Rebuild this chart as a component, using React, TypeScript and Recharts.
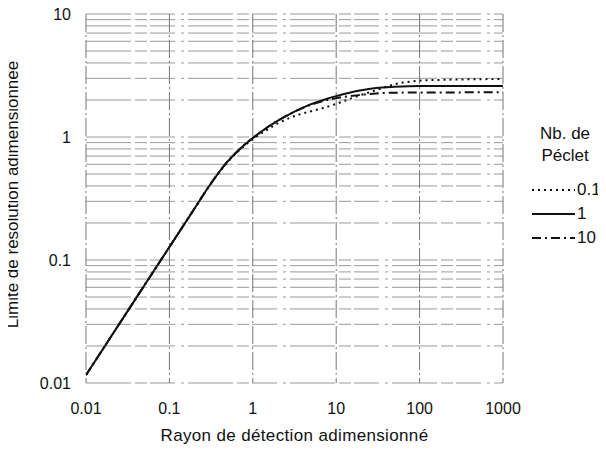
import { LineChart, Line, XAxis, YAxis, CartesianGrid } from 'recharts';

// rayon de détection adimensionné
const RAYON = [0.01, 0.02, 0.05, 0.1, 0.2, 0.3, 0.5, 0.7, 1, 1.5, 2, 3, 5, 7, 10, 20, 30, 50, 100, 200, 500, 1000];

// limite de résolution, une liste par nombre de Péclet
const PE_01 = [0.0116, 0.0239, 0.062, 0.1275, 0.262, 0.4, 0.625, 0.79, 0.96, 1.15, 1.29, 1.46, 1.62, 1.72, 1.86, 2.2, 2.4, 2.68, 2.87, 2.92, 2.95, 2.96];
const PE_1 = [0.0116, 0.0239, 0.062, 0.1275, 0.262, 0.4, 0.634, 0.8, 0.98, 1.2, 1.36, 1.58, 1.85, 2.0, 2.15, 2.4, 2.5, 2.56, 2.6, 2.6, 2.6, 2.6];
const PE_10 = [0.0116, 0.0239, 0.062, 0.1275, 0.262, 0.4, 0.634, 0.8, 0.98, 1.2, 1.36, 1.58, 1.83, 1.96, 2.07, 2.2, 2.26, 2.29, 2.3, 2.3, 2.31, 2.31];

const X_TICKS = [0.01, 0.1, 1, 10, 100, 1000];
const Y_LABELS = [0.01, 0.1, 1, 10];

const SERIES = [
  { key: 'pe01', label: '0.1', values: PE_01, dash: '2 4' },
  { key: 'pe1', label: '1', values: PE_1, dash: undefined },
  { key: 'pe10', label: '10', values: PE_10, dash: '9 4 2 4' },
];

// ticks de l'axe Y : 1..9 de chaque décade (seules les décades ont un libellé)
const Y_TICKS: number[] = [];
[0.01, 0.1, 1].forEach((d) => {
  for (let k = 1; k < 10; k++) Y_TICKS.push(+(k * d).toPrecision(3));
});
Y_TICKS.push(10);

const FONT = '"Liberation Sans", Arial, sans-serif';

const data = RAYON.map((r, i) => {
  const row: Record<string, number> = { r };
  SERIES.forEach((s) => {
    row[s.key] = s.values[i];
  });
  return row;
});

const YTitle = (props: any) => {
  const { y, height } = props.viewBox;
  const cx = 12;
  const cy = y + height / 2 - 4;
  return (
    <text
      x={cx}
      y={cy}
      transform={`rotate(-90, ${cx}, ${cy})`}
      textAnchor="middle"
      dominantBaseline="central"
      fontSize={17}
      fill="#111"
      fontFamily={FONT}
    >
      Limite de résolution adimensionnée
    </text>
  );
};

const XTitle = (props: any) => {
  const { x, y, width, height } = props.viewBox;
  return (
    <text
      x={x + width / 2}
      y={y + height - 13}
      textAnchor="middle"
      fontSize={17}
      letterSpacing={0.35}
      fill="#111"
      fontFamily={FONT}
    >
      Rayon de détection adimensionné
    </text>
  );
};

export default function App() {
  return (
    <div style={{ position: 'relative', margin: -8, width: 606, height: 454, fontFamily: FONT, background: '#fff' }}>
      <LineChart width={606} height={454} data={data} margin={{ top: 14, right: 103, left: 0, bottom: 0 }}>
        <CartesianGrid vertical={false} stroke="#9a9a9a" strokeDasharray="45 4 12 3 25 6 3 4" />
        <CartesianGrid horizontal={false} stroke="#777" strokeDasharray="18 3 2 3" />
        <XAxis
          dataKey="r"
          type="number"
          scale="log"
          domain={[0.01, 1000]}
          ticks={X_TICKS}
          interval={0}
          allowDataOverflow
          axisLine={false}
          tickLine={false}
          tickSize={0}
          tickMargin={20}
          height={71}
          tick={{ fontSize: 16, fill: '#111', fontFamily: FONT }}
          label={<XTitle />}
        />
        <YAxis
          type="number"
          scale="log"
          domain={[0.01, 10]}
          ticks={Y_TICKS}
          interval={0}
          tickFormatter={(v: number) => (Y_LABELS.includes(v) ? String(v) : '')}
          allowDataOverflow
          axisLine={false}
          tickLine={false}
          tickSize={0}
          tickMargin={15}
          width={86}
          tick={{ fontSize: 16, fill: '#111', fontFamily: FONT }}
          label={<YTitle />}
        />
        {SERIES.map((s) => (
          <Line
            key={s.key}
            dataKey={s.key}
            type="monotone"
            stroke="#111"
            strokeWidth={2}
            strokeDasharray={s.dash}
            dot={false}
            isAnimationActive={false}
          />
        ))}
      </LineChart>
      <div style={{ position: 'absolute', left: 532, top: 123, width: 72, fontSize: 17, color: '#111' }}>
        <div style={{ textAlign: 'center', lineHeight: '22px', width: 66 }}>
          Nb. de
          <br />
          Péclet
        </div>
        <div style={{ marginTop: 11 }}>
          {SERIES.map((s) => (
            <div key={s.key} style={{ display: 'flex', alignItems: 'center', height: 24 }}>
              <svg width={44} height={24}>
                <line x1={0} y1={12} x2={43} y2={12} stroke="#111" strokeWidth={2} strokeDasharray={s.dash} />
              </svg>
              <span style={{ marginLeft: 1 }}>{s.label}</span>
            </div>
          ))}
        </div>
      </div>
    </div>
  );
}
